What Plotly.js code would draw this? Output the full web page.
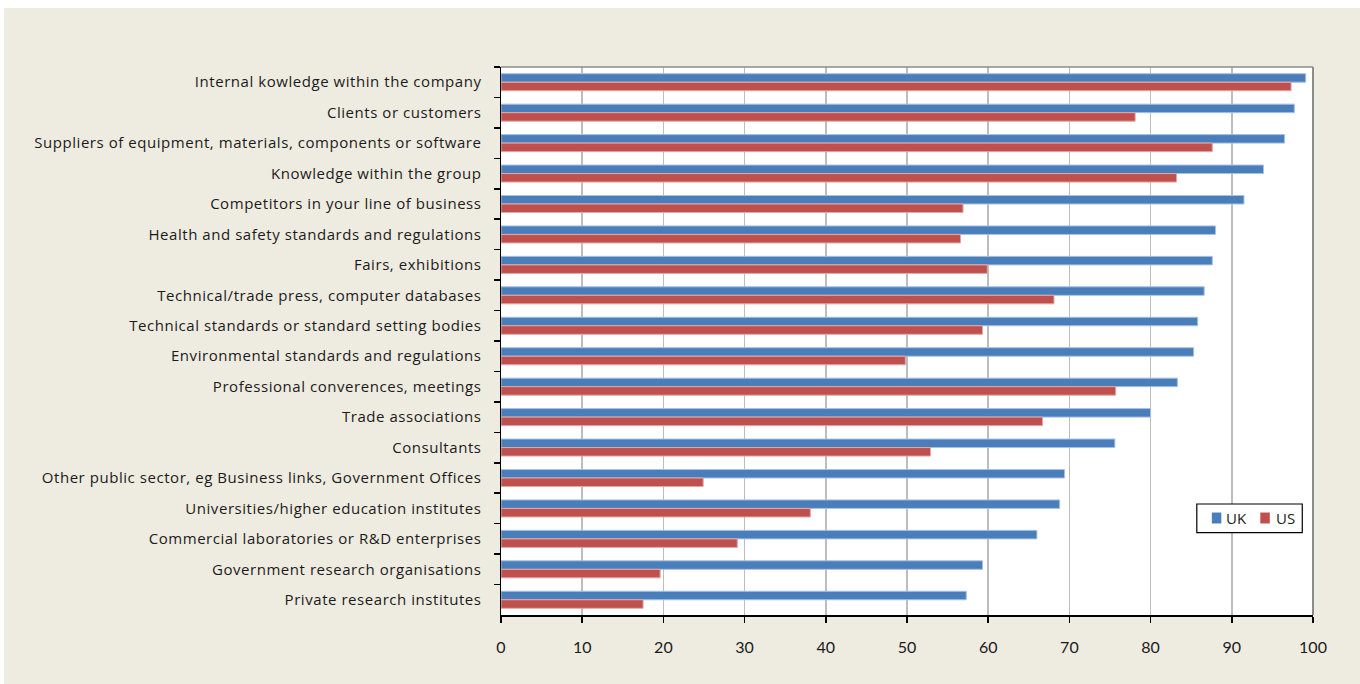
<!DOCTYPE html>
<html>
<head>
<meta charset="utf-8">
<script src="https://cdn.plot.ly/plotly-3.0.1.min.js"></script>
<style>
  html, body { margin: 0; padding: 0; background: #ffffff; }
  #chart { position: absolute; left: 4px; top: 8px; width: 1356px; height: 676px; }
  /* slightly open tracking on the category names */
  #chart .ytick text { letter-spacing: 0.55px; }
</style>
</head>
<body>
<div id="chart"></div>
<script>
// Sources of information, share of firms (%), listed top to bottom
const sources = [
  "Internal kowledge within the company",
  "Clients or customers",
  "Suppliers of equipment, materials, components or software",
  "Knowledge within the group",
  "Competitors in your line of business",
  "Health and safety standards and regulations",
  "Fairs, exhibitions",
  "Technical/trade press, computer databases",
  "Technical standards or standard setting bodies",
  "Environmental standards and regulations",
  "Professional converences, meetings",
  "Trade associations",
  "Consultants",
  "Other public sector, eg Business links, Government Offices",
  "Universities/higher education institutes",
  "Commercial laboratories or R&D enterprises",
  "Government research organisations",
  "Private research institutes"
];

const ukValues = [99.1, 97.7, 96.5, 93.9, 91.5, 88.0, 87.6, 86.6, 85.8, 85.3, 83.3, 80.0, 75.6, 69.4, 68.8, 66.0, 59.3, 57.3];
const usValues = [97.3, 78.1, 87.6, 83.2, 56.9, 56.6, 59.9, 68.1, 59.3, 49.8, 75.7, 66.7, 52.9, 24.9, 38.1, 29.1, 19.6, 17.5];

const seriesNames = ["UK", "US"];
const seriesColors = ["#4A7EBB", "#C0504D"];
const seriesEdges = ["#A9C1E2", "#E2A9A7"];

const xTicks = [0, 10, 20, 30, 40, 50, 60, 70, 80, 90, 100];

const labelFont = "'Open Sans', Lato, sans-serif";
const numberFont = "Lato, 'Open Sans', sans-serif";
const textColor = "#1b1b1b";

const traces = [ukValues, usValues].map((vals, i) => ({
  type: "bar",
  orientation: "h",
  name: seriesNames[i],
  y: sources,
  x: vals,
  marker: { color: seriesColors[i], line: { color: seriesEdges[i], width: 1 } },
  hoverinfo: "skip"
}));

// Compact boxed key in the lower right of the plotting area (paper coordinates)
const keyBox = { x0: 0.8569, x1: 0.9868, y0: 0.1505, y1: 0.2026 };
const keySwatchX = [0.8754, 0.9351];
const keySwatchW = 0.0117;
const keySwatchY = [0.1670, 0.1870];
const keyTextX = [0.8910, 0.9520];
const keyTextY = 0.1775;

const keyShapes = [
  { type: "rect", xref: "paper", yref: "paper",
    x0: keyBox.x0, x1: keyBox.x1, y0: keyBox.y0, y1: keyBox.y1,
    fillcolor: "#FFFFFF", line: { color: "#000000", width: 1.2 } }
].concat(seriesNames.map((n, i) => ({
  type: "rect", xref: "paper", yref: "paper",
  x0: keySwatchX[i], x1: keySwatchX[i] + keySwatchW, y0: keySwatchY[0], y1: keySwatchY[1],
  fillcolor: seriesColors[i], line: { width: 0 }
})));

const keyLabels = seriesNames.map((n, i) => ({
  xref: "paper", yref: "paper", x: keyTextX[i], y: keyTextY,
  xanchor: "left", yanchor: "middle", text: n, showarrow: false,
  font: { family: labelFont, size: 15, color: textColor }
}));

const layout = {
  width: 1356,
  height: 676,
  paper_bgcolor: "#EEEBE0",
  plot_bgcolor: "#FFFFFF",
  margin: { l: 497, r: 47, t: 59, b: 69, pad: 0 },
  barmode: "group",
  bargap: 0.44,
  bargroupgap: 0,
  showlegend: false,
  font: { family: labelFont, size: 15, color: textColor },
  xaxis: {
    range: [0, 100],
    tickvals: xTicks,
    ticktext: xTicks.map(String),
    showgrid: true,
    gridcolor: "#BDBDBD",
    gridwidth: 1.5,
    zeroline: false,
    showline: true,
    linecolor: "#000000",
    linewidth: 1.5,
    ticks: "outside",
    ticklen: 6,
    tickwidth: 1.5,
    tickcolor: "#000000",
    ticklabelstandoff: 11,
    tickfont: { family: numberFont, size: 16, color: textColor },
    fixedrange: true
  },
  yaxis: {
    type: "category",
    categoryorder: "array",
    categoryarray: sources,
    autorange: "reversed",
    showgrid: false,
    zeroline: false,
    showline: true,
    linecolor: "#000000",
    linewidth: 1.5,
    ticks: "outside",
    tickson: "boundaries",
    ticklen: 6,
    tickwidth: 1.5,
    tickcolor: "#000000",
    ticklabelstandoff: 15,
    tickfont: { family: labelFont, size: 15, color: textColor },
    fixedrange: true
  },
  shapes: [
    // grey frame on the top and right edges of the plotting area
    { type: "line", xref: "paper", yref: "paper", x0: 0, x1: 1, y0: 1, y1: 1,
      line: { color: "#8C8C8C", width: 1.5 } },
    { type: "line", xref: "paper", yref: "paper", x0: 1, x1: 1, y0: 0, y1: 1,
      line: { color: "#8C8C8C", width: 2 } }
  ].concat(keyShapes),
  annotations: keyLabels
};

Plotly.newPlot("chart", traces, layout, { displayModeBar: false, staticPlot: true });
</script>
</body>
</html>
